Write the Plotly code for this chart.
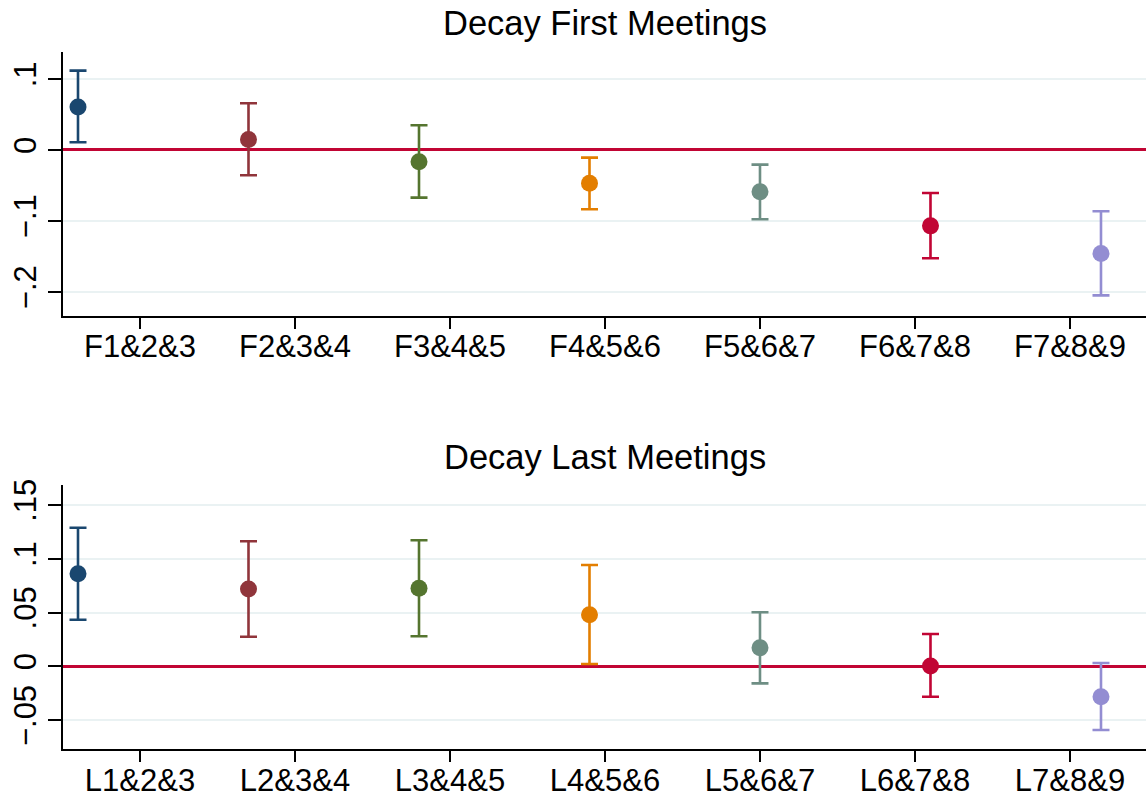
import plotly.graph_objects as go

# ---------------- data ----------------
first_labels = ["F1&2&3", "F2&3&4", "F3&4&5", "F4&5&6", "F5&6&7", "F6&7&8", "F7&8&9"]
first_est = [0.0606, 0.0146, -0.0165, -0.047, -0.059, -0.107, -0.146]
first_lo = [0.0108, -0.0357, -0.0672, -0.0835, -0.0977, -0.1526, -0.205]
first_hi = [0.1117, 0.0657, 0.0348, -0.0108, -0.0207, -0.0606, -0.0864]

last_labels = ["L1&2&3", "L2&3&4", "L3&4&5", "L4&5&6", "L5&6&7", "L6&7&8", "L7&8&9"]
last_est = [0.0861, 0.0718, 0.0725, 0.048, 0.0173, 0.0003, -0.0282]
last_lo = [0.0433, 0.0275, 0.0279, 0.0021, -0.0158, -0.0282, -0.0592]
last_hi = [0.1288, 0.1162, 0.1171, 0.0941, 0.0502, 0.030, 0.0031]

first_yticks = [-0.2, -0.1, 0, 0.1]
first_yticktext = ["\u2212.2", "\u2212.1", "0", ".1"]
last_yticks = [-0.05, 0, 0.05, 0.1, 0.15]
last_yticktext = ["\u2212.05", "0", ".05", ".1", ".15"]

titles = ["Decay First Meetings", "Decay Last Meetings"]

colors = ["#1a476f", "#90353b", "#55752f", "#e37e00", "#6e8e84", "#c10534", "#938dd2"]

# ---------------- figure ----------------
W, H = 1146, 797
FONT = "Arial, 'Liberation Sans', Helvetica, sans-serif"
fig = go.Figure()

n = len(first_labels)
xpos = list(range(1, n + 1))
tickpos = [(10 * k + 5) / 11 for k in range(1, n + 1)]


def add_panel(est, lo, hi, xa, ya):
    for i in range(n):
        fig.add_trace(go.Scatter(
            x=[xpos[i]], y=[est[i]], mode="markers",
            marker=dict(color=colors[i], size=17, line=dict(width=0)),
            error_y=dict(type="data", symmetric=False,
                         array=[hi[i] - est[i]], arrayminus=[est[i] - lo[i]],
                         color=colors[i], thickness=2.6, width=8.5),
            xaxis=xa, yaxis=ya, showlegend=False, cliponaxis=False,
        ))


add_panel(first_est, first_lo, first_hi, "x", "y")
add_panel(last_est, last_lo, last_hi, "x2", "y2")

xdom = [63 / W, 1.0]


def pdom(top_px, bot_px):
    return [(H - bot_px) / H, (H - top_px) / H]


common_x = dict(
    range=[0.912, 7.264], tickmode="array", tickvals=tickpos,
    ticks="outside", ticklen=11, tickwidth=2, tickcolor="black",
    showline=True, linecolor="black", linewidth=2,
    showgrid=False, zeroline=False, domain=xdom, automargin=False,
    ticklabelstandoff=-9,
    tickfont=dict(family=FONT, size=31, color="black"),
)
common_y = dict(
    tickmode="array", ticks="outside", ticklen=13, tickwidth=2, tickcolor="black",
    showline=True, linecolor="black", linewidth=2,
    showgrid=True, gridcolor="#eaf2f3", gridwidth=2,
    zeroline=True, zerolinecolor="#c10534", zerolinewidth=2.6,
    tickangle=-90, tickfont=dict(family=FONT, size=31, color="black"),
    automargin=False,
)

fig.update_layout(
    width=W, height=H, autosize=False,
    margin=dict(l=0, r=0, t=0, b=0, pad=0),
    paper_bgcolor="white", plot_bgcolor="white",
    xaxis=dict(common_x, ticktext=first_labels, anchor="y"),
    yaxis=dict(common_y, range=[-0.234, 0.138], tickvals=first_yticks,
               ticktext=first_yticktext, domain=pdom(52, 316), anchor="x"),
    xaxis2=dict(common_x, ticktext=last_labels, anchor="y2"),
    yaxis2=dict(common_y, range=[-0.0771, 0.1685], tickvals=last_yticks,
                ticktext=last_yticktext, domain=pdom(485, 749.3), anchor="x2"),
    annotations=[
        dict(text=titles[0], xref="paper", yref="paper",
             x=(xdom[0] + xdom[1]) / 2, y=(H - 23) / H,
             xanchor="center", yanchor="middle", showarrow=False,
             font=dict(family=FONT, size=34.5, color="black")),
        dict(text=titles[1], xref="paper", yref="paper",
             x=(xdom[0] + xdom[1]) / 2, y=(H - 457) / H,
             xanchor="center", yanchor="middle", showarrow=False,
             font=dict(family=FONT, size=34.5, color="black")),
    ],
)

fig.write_html("out.html")
